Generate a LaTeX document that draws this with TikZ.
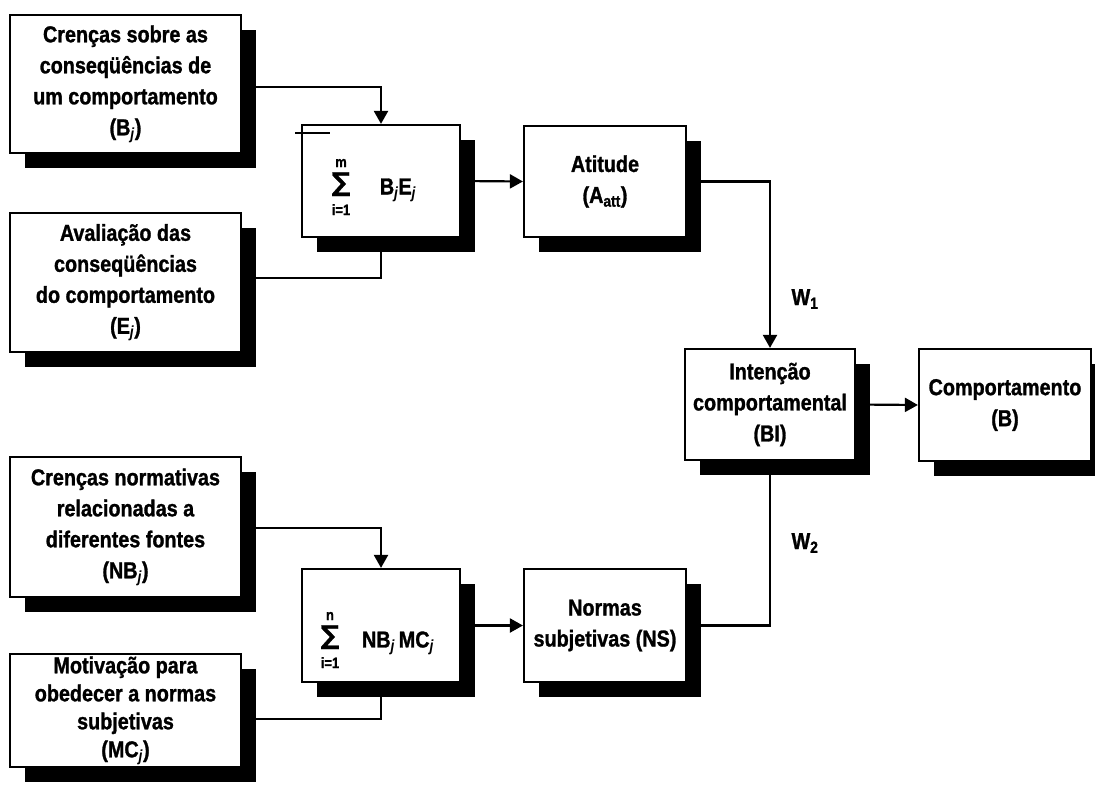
\documentclass[tikz,border=0pt]{standalone}
\usepackage{fontspec}
\setmainfont{Liberation Sans}[FakeStretch=0.86,BoldFeatures={FakeBold=1.2}]
\newfontfamily\symf{DejaVu Sans}[BoldFeatures={FakeBold=1}]
\usetikzlibrary{arrows.meta,shadows}
\begin{document}
\begin{tikzpicture}[x=1pt,y=-1pt,
  box/.style={draw=black,line width=2.2pt,fill=white,rectangle,inner sep=0pt,align=center,
    font=\fontsize{23}{31}\selectfont\bfseries,
    drop shadow={shadow xshift=15pt,shadow yshift=-15pt,fill=black,opacity=1}},
  txt/.style={inner sep=0pt,font=\fontsize{23}{31}\selectfont\bfseries},
  stack/.style={inner sep=0pt,align=center,font=\fontsize{15}{24}\selectfont\bfseries},
  conn/.style={line width=2.2pt},
  arr/.style={conn,-{Triangle[length=13pt,width=14pt]}}]
\useasboundingbox[fill=white] (0,0) rectangle (1095,805);

% left boxes
\node[box,minimum width=231pt,minimum height=138pt] (b1) at (125.5,84)
  {Crenças sobre as\\conseqüências de\\um comportamento\\(B\textsubscript{\itshape j})};
\node[box,minimum width=231pt,minimum height=139pt] (b2) at (125.5,282.5)
  {Avaliação das\\conseqüências\\do comportamento\\(E\textsubscript{\itshape j})};
\node[box,minimum width=231pt,minimum height=140pt] (b3) at (125.5,527)
  {Crenças normativas\\relacionadas a\\diferentes fontes\\(NB\textsubscript{\itshape j})};
\node[box,minimum width=231pt,minimum height=113pt,font=\fontsize{23}{28}\selectfont\bfseries] (b4) at (125.5,710.5)
  {Motivação para\\obedecer a normas\\subjetivas\\(MC\textsubscript{\itshape j})};

% sum boxes
\node[box,minimum width=158pt,minimum height=112pt] (s1) at (381,181) {};
\node[box,minimum width=158pt,minimum height=113pt] (s2) at (381,625.5) {};

% right boxes
\node[box,minimum width=162pt,minimum height=111pt] (att) at (605,181.5)
  {Atitude\\(A\textsubscript{att})};
\node[box,minimum width=162pt,minimum height=113pt] (ns) at (605,625.5)
  {Normas\\subjetivas (NS)};
\node[box,minimum width=170pt,minimum height=111pt] (bi) at (770,404.5)
  {Intenção\\comportamental\\(BI)};
\node[box,minimum width=172pt,minimum height=112pt] (comp) at (1005,405)
  {Comportamento\\(B)};

% sum contents
\node[stack] (sum1) at (341,187) {m\\{\symf\bfseries\fontsize{26}{24}\selectfont ∑}\\i=1};
\node[txt] (be) at (398,190) {B\textsubscript{\itshape j}E\textsubscript{\itshape j}};
\node[stack] (sum2) at (330,640) {n\\{\symf\bfseries\fontsize{26}{24}\selectfont ∑}\\i=1};
\node[txt] (nbmc) at (398,643) {NB\textsubscript{\itshape j}\,MC\textsubscript{\itshape j}};

% small mark
\draw[line width=1.2pt] (295,133) -- (330,133);

% connector turning rows
\coordinate (k1) at (0,87);
\coordinate (k2) at (0,278);
\coordinate (k3) at (0,528);
\coordinate (k4) at (0,719);

\draw[arr] (b1.east |- k1) -| (s1.north);
\draw[conn] (b2.east |- k2) -| (s1.south);
\draw[arr] (s1.east) -- (att.west);
\draw[arr] (att.east) -| (bi.north);
\draw[arr] (b3.east |- k3) -| (s2.north);
\draw[conn] (b4.east |- k4) -| (s2.south);
\draw[arr] (s2.east) -- (ns.west);
\draw[conn] (ns.east) -| (bi.south);
\draw[arr] (bi.east) -- (comp.west);

% weights
\node[txt] (w1) at (805,299) {W\textsubscript{1}};
\node[txt] (w2) at (805,543) {W\textsubscript{2}};
\end{tikzpicture}
\end{document}
